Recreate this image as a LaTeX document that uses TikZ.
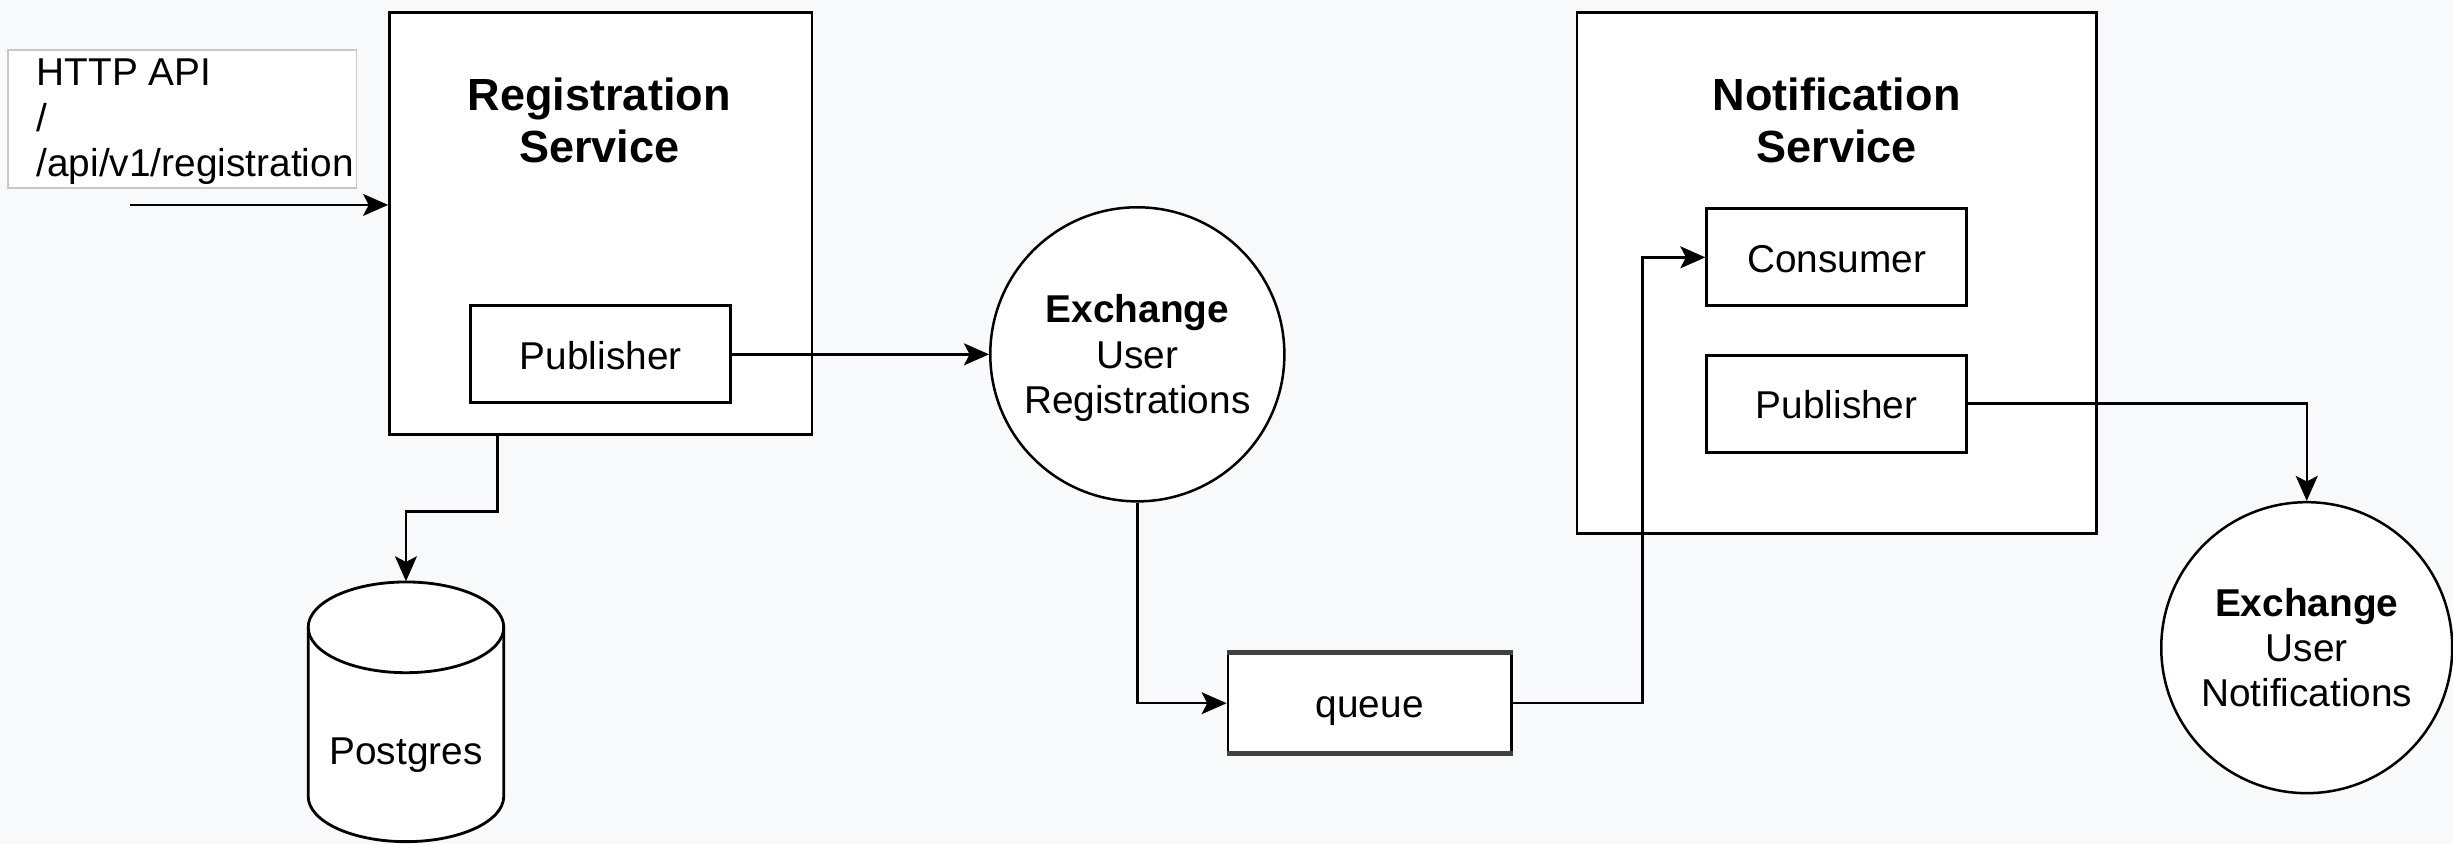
\documentclass[tikz,border=0pt]{standalone}
\usepackage{fontspec}
\setmainfont{Liberation Sans}
\usetikzlibrary{arrows.meta,calc}
\definecolor{bgc}{RGB}{248,249,250}
\definecolor{lightframe}{RGB}{200,200,200}
\begin{document}
\begin{tikzpicture}[x=0.5pt,y=-0.5pt,
  txt/.style={font=\fontsize{12.4pt}{14.5pt}\selectfont},
  ttl/.style={font=\fontsize{14.4pt}{16.5pt}\selectfont\bfseries, align=center},
  svc/.style={draw, line width=0.9pt, fill=white, inner sep=0pt},
  comp/.style={draw, line width=0.9pt, fill=white, inner sep=0pt, minimum width=83pt, minimum height=31pt, txt, text height=12pt, text depth=2.6pt},
  exch/.style={draw, circle, line width=0.8pt, fill=white, inner sep=0pt},
  exchtxt/.style={txt, align=center, inner sep=0pt},
  arr/.style={line width=0.8pt, -{Stealth[length=8pt,width=7pt,inset=1.8pt]}}]
\useasboundingbox[fill=bgc] (0,0) rectangle (1568,539.5);

% HTTP API label box
\node[draw=lightframe, line width=0.5pt, fill=white, minimum width=111.5pt, minimum height=44pt, inner sep=0pt] (http) at (116.5,76) {};
\node[txt, anchor=west, align=left, inner sep=0pt] (httptxt) at (23,78) {HTTP API\\/\\/api/v1/registration};

% Registration service
\node[svc, minimum width=135pt, minimum height=135pt] (rs) at (384,143) {};
\node[ttl] (rsttl) at (383,77) {Registration\\Service};
\node[comp] (pub1) at (384,226.5) {Publisher};

% Exchange user registrations
\node[exch, minimum size=94pt] (ex1) at (727,226.5) {};
\node[exchtxt] (ex1txt) at (727,229) {\textbf{Exchange}\\User\\Registrations};

% Postgres cylinder
\node[minimum width=62.5pt, minimum height=83pt, inner sep=0pt] (pg) at (259.5,455) {};
\draw[line width=0.9pt, fill=white] (197,401) -- (197,509)
  arc[start angle=180, end angle=360, x radius=31.25pt, y radius=14.5pt]
  -- (322,401)
  arc[start angle=0, end angle=180, x radius=31.25pt, y radius=14.5pt] -- cycle;
\draw[line width=0.9pt] (197,401) arc[start angle=180, end angle=360, x radius=31.25pt, y radius=14.5pt];
\node[txt] (pgtxt) at (259.5,483) {Postgres};

% queue
\node[comp, minimum width=90.5pt, minimum height=31.5pt] (queue) at (875.5,449.5) {queue};
\draw[line width=1.6pt, black!75] (queue.north west) -- (queue.north east);
\draw[line width=1.6pt, black!75] (queue.south west) -- (queue.south east);

% Notification service
\node[svc, minimum width=166pt, minimum height=166.5pt] (ns) at (1174,174.5) {};
\node[ttl] (nsttl) at (1174,77) {Notification\\Service};
\node[comp] (cons) at (1174,164.5) {Consumer};
\node[comp] (pub2) at (1174,258) {Publisher};

% Exchange user notifications
\node[exch, minimum size=93pt] (ex2) at (1474.5,414) {};
\node[exchtxt] (ex2txt) at (1474.5,414) {\textbf{Exchange}\\User\\Notifications};

% connectors
\coordinate (httpin) at (83,131);
\draw[arr] (httpin) -- (httpin -| rs.west);
\draw[arr] (pub1.east) -- (ex1.west);
\draw[arr] ([xshift=-33pt]rs.south) -- ++(0,48) -| (pg.north);
\draw[arr] (ex1.south) |- (queue.west);
\draw[arr] (queue.east) -- ++(83,0) |- (cons.west);
\draw[arr] (pub2.east) -| (ex2.north);
\end{tikzpicture}
\end{document}
